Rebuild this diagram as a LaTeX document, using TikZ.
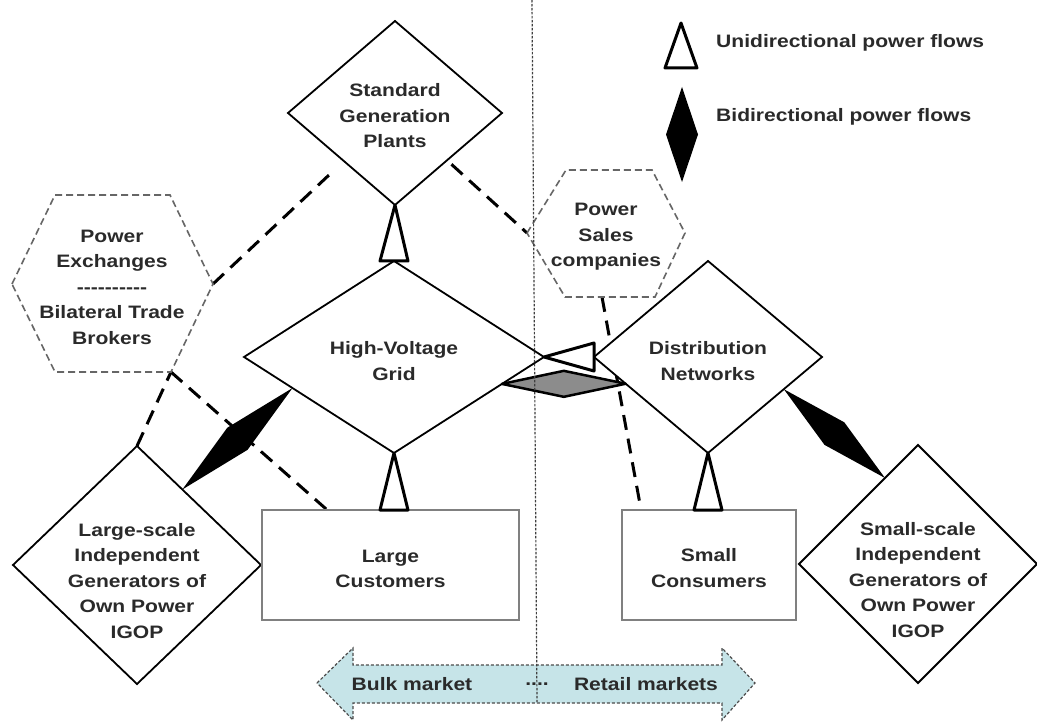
\documentclass[tikz,border=0pt]{standalone}
\usepackage{fontspec}
\setmainfont{Liberation Sans}[FakeStretch=1.17]
\usetikzlibrary{shapes.geometric,calc,backgrounds}
\definecolor{mkt}{HTML}{C6E4E8}
\definecolor{txt}{HTML}{2A2A2A}
\newcommand\bidikite[4]{\path[#4] (#1) -- ($(#1)!0.5!(#2)!#3!90:(#2)$) -- (#2) -- ($(#1)!0.5!(#2)!#3!-90:(#2)$) -- cycle;}
\begin{document}
\begin{tikzpicture}[x=1pt,y=-1pt,
  lbl/.style={font=\bfseries\fontsize{18}{25.5}\selectfont, text=txt, align=center, inner sep=0pt},
  dia/.style={diamond, draw=black, line width=1.8pt, fill=white, inner sep=0pt, outer sep=0pt},
  box/.style={rectangle, draw=black!50, line width=2.5pt, fill=white, inner sep=0pt, outer sep=0pt},
  dl/.style={draw=black, line width=3pt, dash pattern=on 15pt off 9pt},
  hexline/.style={draw=black!60, line width=1.6pt, dash pattern=on 7pt off 4pt},
  tri/.style={draw=black, line width=3pt, fill=white, line join=round},
  bidi/.style={fill=black},
  bidigrey/.style={fill=black!45, draw=black, line width=2.5pt, line join=round},
  market/.style={fill=mkt, draw=black!70, line width=1.2pt, dash pattern=on 3pt off 2pt},
  divider/.style={draw=black!75, line width=1.2pt, dash pattern=on 2.5pt off 1.5pt}
]
\useasboundingbox (0,0) rectangle (1037,722);

% main nodes
\node[dia, minimum width=214pt, minimum height=184pt,
  label={[lbl,yshift=-3pt]center:Standard\\Generation\\Plants}] (sgp) at (395,113) {};
\node[dia, minimum width=300pt, minimum height=192pt,
  label={[lbl,yshift=-4pt]center:High-Voltage\\Grid}] (hv) at (394,357) {};
\node[dia, minimum width=228pt, minimum height=192pt,
  label={[lbl,yshift=-4pt]center:Distribution\\Networks}] (dn) at (708,357) {};
\node[dia, minimum width=248pt, minimum height=238pt,
  label={[lbl,yshift=-16pt]center:Large-scale\\Independent\\Generators of\\Own Power\\IGOP}] (lig) at (137,565) {};
\node[dia, minimum width=238pt, minimum height=238pt,
  label={[lbl,yshift=-16pt]center:Small-scale\\Independent\\Generators of\\Own Power\\IGOP}] (sig) at (918,564) {};
\node[box, minimum width=257pt, minimum height=110pt,
  label={[lbl,yshift=-4pt]center:Large\\Customers}] (lc) at (390.5,565) {};
\node[box, minimum width=174pt, minimum height=110pt,
  label={[lbl,yshift=-3pt]center:Small\\Consumers}] (sc) at (709,565) {};

% hexagons
\coordinate (pexc) at (112,284);
\draw[hexline] ($(pexc)+(-100,0)$) -- ($(pexc)+(-57,-89)$) -- ($(pexc)+(58,-89)$)
  -- ($(pexc)+(101,0)$) coordinate (pexE) -- ($(pexc)+(59,88)$) coordinate (pexSE)
  -- ($(pexc)+(-57,88)$) -- cycle;
\node[lbl] (pex) at (112,287) {Power\\Exchanges\\-{}-{}-{}-{}-{}-{}-{}-{}-{}-\\Bilateral Trade\\Brokers};

\coordinate (pscc) at (607,233);
\draw[hexline] ($(pscc)+(-80,0)$) coordinate (pscW) -- ($(pscc)+(-41,-63)$) -- ($(pscc)+(45,-63)$)
  -- ($(pscc)+(78,0)$) -- ($(pscc)+(48,64)$) -- ($(pscc)+(-42,64)$) -- cycle;
\coordinate (pscS) at ($(pscc)+(-5,64)$);
\node[lbl] (psc) at (606,237) {Power\\Sales\\companies};

% dashed relations behind everything
\begin{pgfonlayer}{background}
\fill[white] (0,0) rectangle (1037,722);
\draw[dl, shorten >=17pt] (pexE) -- (sgp);
\draw[dl, shorten <=6pt] (sgp) -- (pscW);
\draw[dl] (pexSE) -- (lc.139.5);
\draw[dl] (lig.north) -- (pexSE);
\draw[dl] (pscS) -- (sc.141);
\end{pgfonlayer}

% bidirectional flows
\bidikite{lig.59}{hv.197}{15pt}{bidi}
\bidikite{dn.-23}{sig.111}{15pt}{bidi}
\bidikite{hv.-14}{dn.198}{13pt}{bidigrey}

% unidirectional flows
\draw[tri] (sgp.south) -- ($(hv.north)+(-14,0)$) -- ($(hv.north)+(14,0)$) -- cycle;
\draw[tri] (hv.south) -- ($(hv.south |- lc.north)+(-14,0)$) -- ($(hv.south |- lc.north)+(14,0)$) -- cycle;
\draw[tri] (dn.south) -- ($(dn.south |- sc.north)+(-14,0)$) -- ($(dn.south |- sc.north)+(14,0)$) -- cycle;
\draw[tri] (hv.east) -- ($(dn.west)+(0,-14)$) -- ($(dn.west)+(0,14)$) -- cycle;

% legend
\coordinate (lgT) at (681,23);
\draw[tri] (lgT) -- ($(lgT)+(-16,45)$) -- ($(lgT)+(16,45)$) -- cycle;
\coordinate (lgA) at (682,87);
\coordinate (lgB) at (682,182);
\bidikite{lgA}{lgB}{16pt}{bidi}
\node[lbl, anchor=base west] (lguni) at (716,48) {Unidirectional power flows};
\node[lbl, anchor=base west] (lgbi) at (716,122) {Bidirectional power flows};

% market arrow
\coordinate (mkc) at (536,683);
\draw[market] ($(mkc)+(-219,0)$) -- ($(mkc)+(-183,-35)$) -- ($(mkc)+(-183,-18)$)
  -- ($(mkc)+(186,-18)$) -- ($(mkc)+(186,-35)$) -- ($(mkc)+(219,0)$)
  -- ($(mkc)+(186,37)$) -- ($(mkc)+(186,20)$) -- ($(mkc)+(-183,20)$)
  -- ($(mkc)+(-183,37)$) -- cycle;
\node[lbl] (bulk) at (412,684) {Bulk market};
\node[lbl] (dots) at (537,684) {....};
\node[lbl] (retail) at (646,684) {Retail markets};

% divider
\coordinate (vtop) at (532,0);
\coordinate (vbot) at (537,702);
\draw[divider] (vtop) -- (vbot);
\end{tikzpicture}
\end{document}
